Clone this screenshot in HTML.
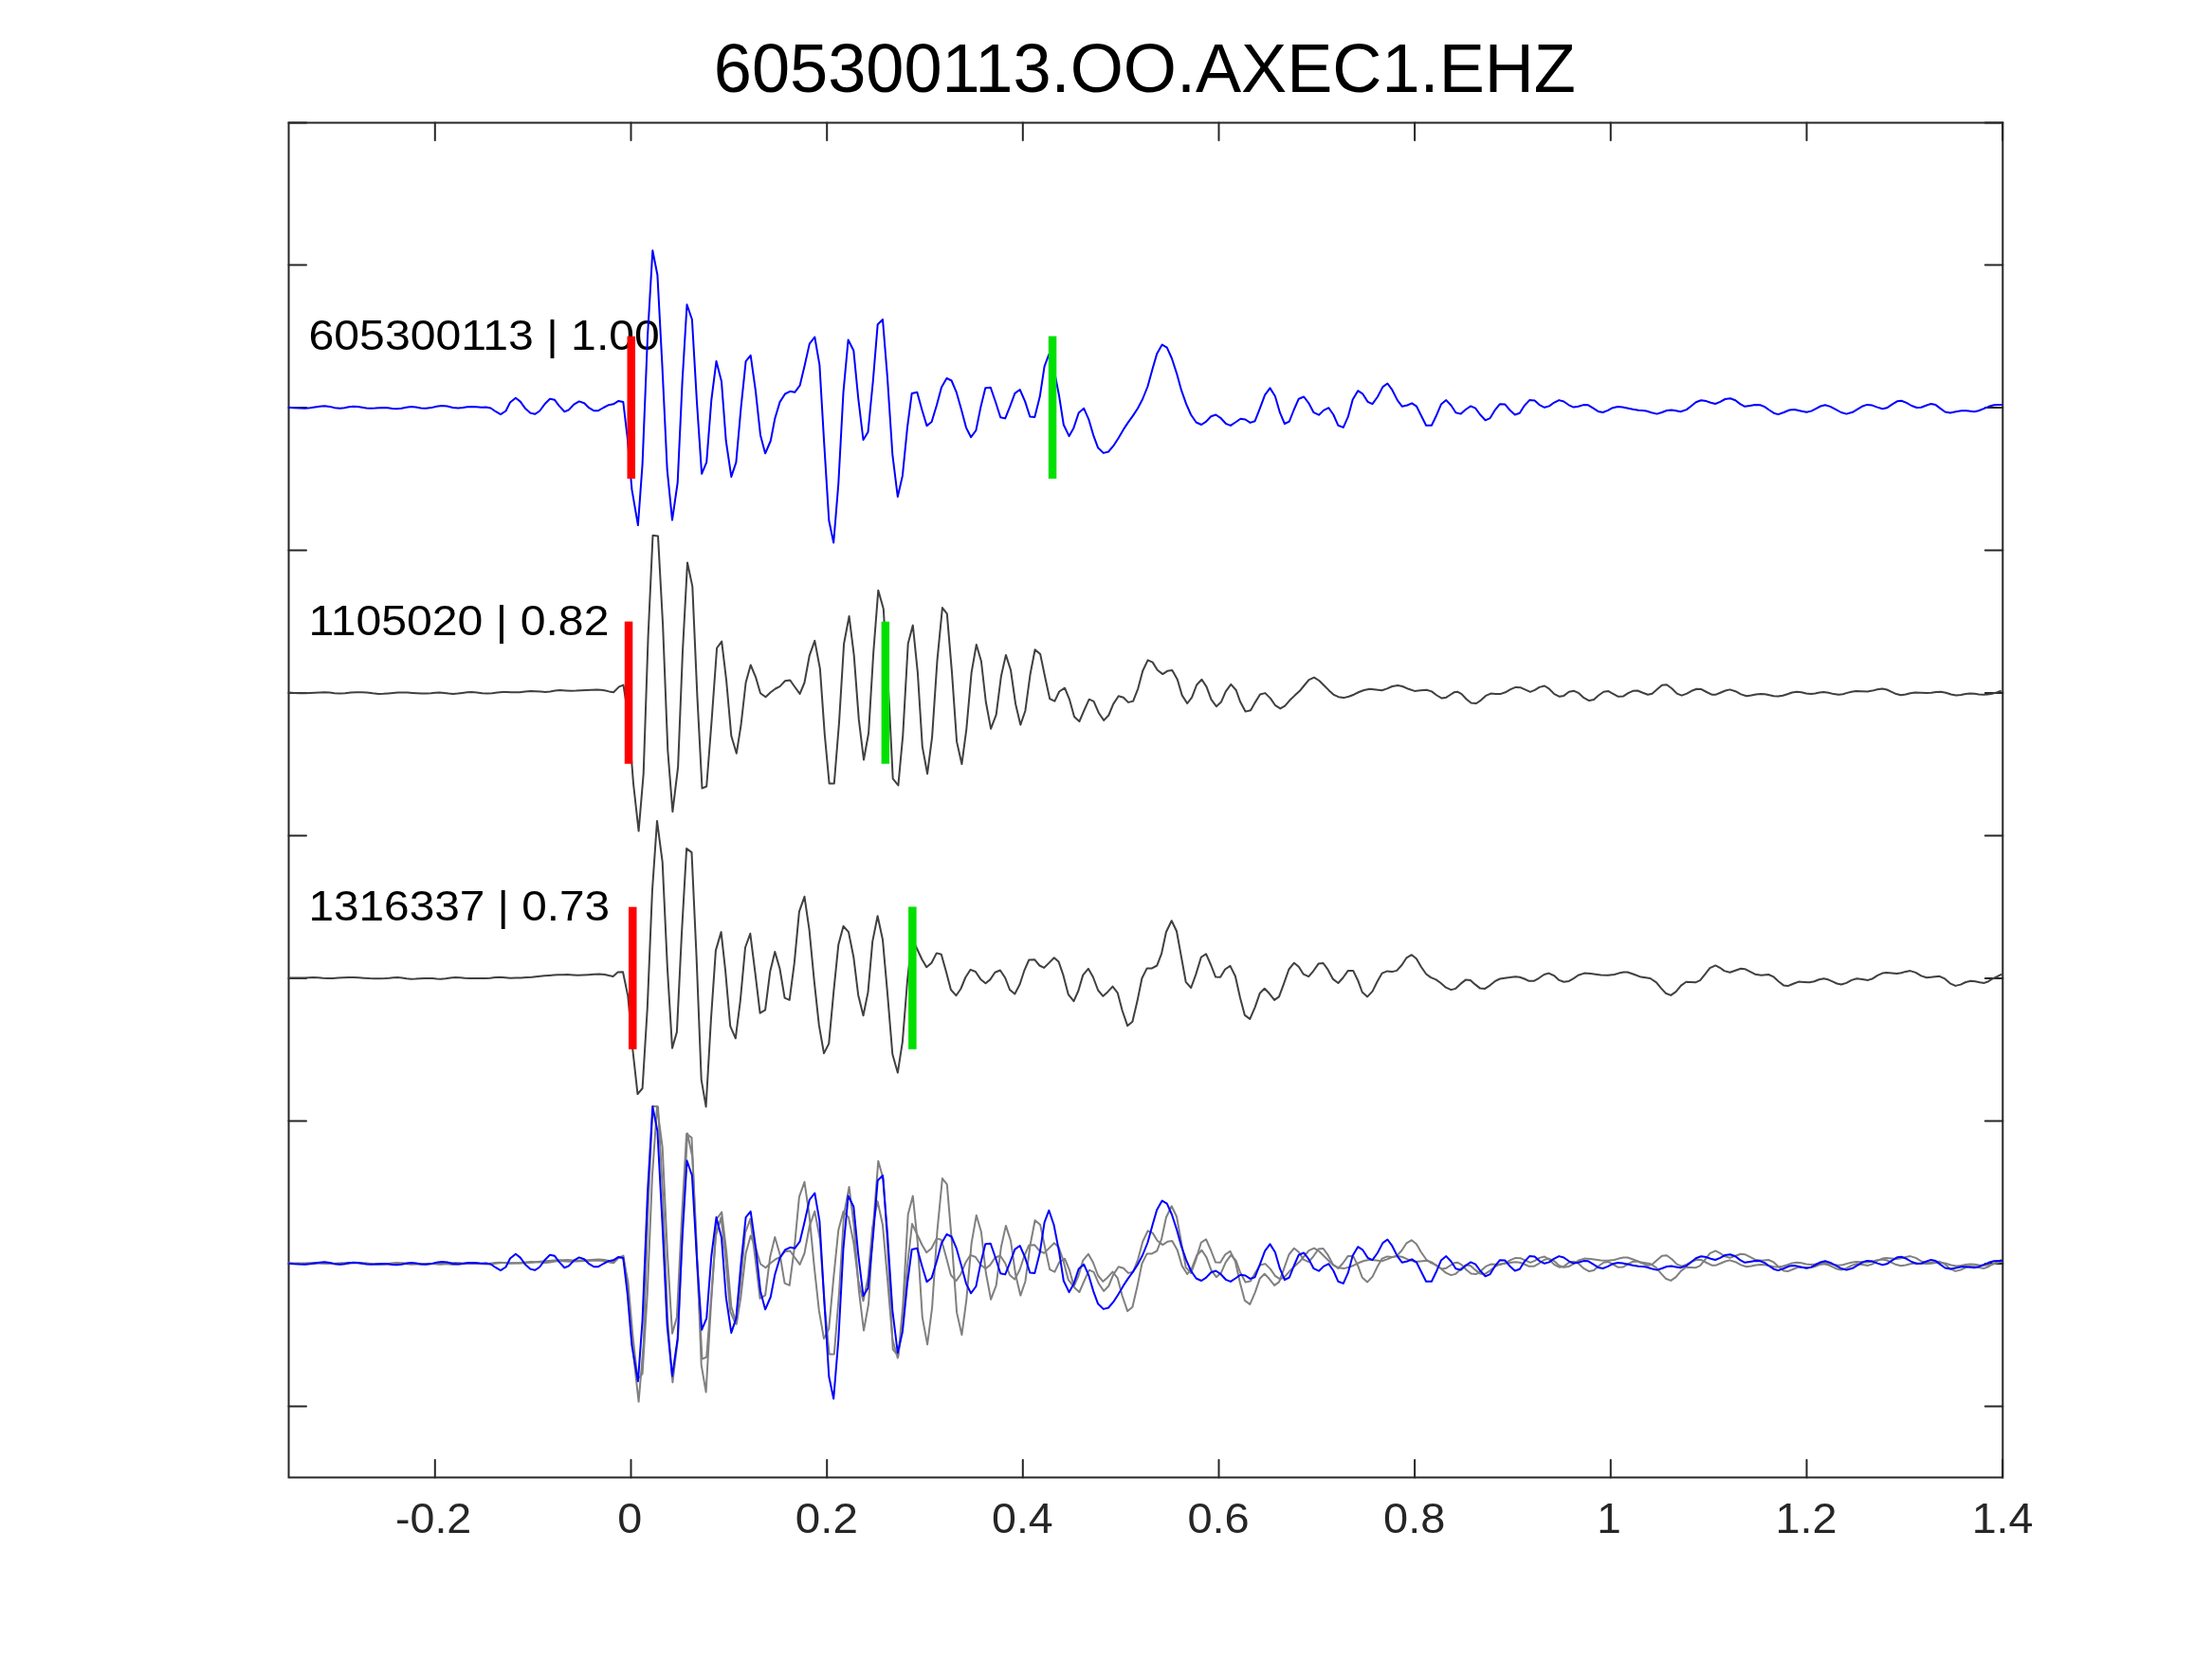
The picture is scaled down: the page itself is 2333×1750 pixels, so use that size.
<!DOCTYPE html>
<html><head><meta charset="utf-8"><style>html,body{margin:0;padding:0;background:#fff;overflow:hidden}svg{display:block;will-change:transform}text{font-family:"Liberation Sans",sans-serif}</style></head>
<body><svg width="2333" height="1750" viewBox="0 0 2333 1750">
<rect width="2333" height="1750" fill="#fff"/>
<g stroke="#262626" stroke-width="2" stroke-linecap="round"><rect x="304.5" y="129.5" width="1807.8" height="1429.0" fill="none" stroke="#262626" stroke-width="2"/><line x1="458.8" y1="1558.5" x2="458.8" y2="1540.0"/><line x1="458.8" y1="129.5" x2="458.8" y2="148.0"/><line x1="665.5" y1="1558.5" x2="665.5" y2="1540.0"/><line x1="665.5" y1="129.5" x2="665.5" y2="148.0"/><line x1="872.2" y1="1558.5" x2="872.2" y2="1540.0"/><line x1="872.2" y1="129.5" x2="872.2" y2="148.0"/><line x1="1078.8" y1="1558.5" x2="1078.8" y2="1540.0"/><line x1="1078.8" y1="129.5" x2="1078.8" y2="148.0"/><line x1="1285.5" y1="1558.5" x2="1285.5" y2="1540.0"/><line x1="1285.5" y1="129.5" x2="1285.5" y2="148.0"/><line x1="1492.1" y1="1558.5" x2="1492.1" y2="1540.0"/><line x1="1492.1" y1="129.5" x2="1492.1" y2="148.0"/><line x1="1698.8" y1="1558.5" x2="1698.8" y2="1540.0"/><line x1="1698.8" y1="129.5" x2="1698.8" y2="148.0"/><line x1="1905.5" y1="1558.5" x2="1905.5" y2="1540.0"/><line x1="1905.5" y1="129.5" x2="1905.5" y2="148.0"/><line x1="2112.1" y1="1558.5" x2="2112.1" y2="1540.0"/><line x1="2112.1" y1="129.5" x2="2112.1" y2="148.0"/><line x1="304.5" y1="279.4" x2="323.0" y2="279.4"/><line x1="2112.3" y1="279.4" x2="2093.8" y2="279.4"/><line x1="304.5" y1="580.4" x2="323.0" y2="580.4"/><line x1="2112.3" y1="580.4" x2="2093.8" y2="580.4"/><line x1="304.5" y1="881.4" x2="323.0" y2="881.4"/><line x1="2112.3" y1="881.4" x2="2093.8" y2="881.4"/><line x1="304.5" y1="1182.4" x2="323.0" y2="1182.4"/><line x1="2112.3" y1="1182.4" x2="2093.8" y2="1182.4"/><line x1="304.5" y1="1483.4" x2="323.0" y2="1483.4"/><line x1="2112.3" y1="1483.4" x2="2093.8" y2="1483.4"/><line x1="304.5" y1="429.9" x2="323.0" y2="429.9"/><line x1="2112.3" y1="429.9" x2="2093.8" y2="429.9"/><line x1="304.5" y1="730.9" x2="323.0" y2="730.9"/><line x1="2112.3" y1="730.9" x2="2093.8" y2="730.9"/><line x1="304.5" y1="1031.9" x2="323.0" y2="1031.9"/><line x1="2112.3" y1="1031.9" x2="2093.8" y2="1031.9"/><line x1="304.5" y1="1332.9" x2="323.0" y2="1332.9"/><line x1="2112.3" y1="1332.9" x2="2093.8" y2="1332.9"/><line x1="304.5" y1="129.5" x2="323.0" y2="129.5"/><line x1="2112.3" y1="129.5" x2="2093.8" y2="129.5"/></g>
<g opacity="0.999"><text transform="translate(325.59 369.15) scale(0.4814 0.45)" font-size="100" fill="#000">605300113 | 1.00</text></g>
<g opacity="0.999"><text transform="translate(325.45 670.25) scale(0.4817 0.45)" font-size="100" fill="#000">1105020 | 0.82</text></g>
<g opacity="0.999"><text transform="translate(325.48 971.05) scale(0.4773 0.45)" font-size="100" fill="#000">1316337 | 0.73</text></g>
<polyline fill="none" stroke="#808080" stroke-width="2.00" stroke-linejoin="round" points="304.3,1332.5 310.1,1332.9 315.9,1333.2 321.7,1333.3 326.9,1333.1 332.0,1332.8 337.1,1332.4 342.3,1332.2 347.5,1332.6 352.8,1333.2 358.0,1333.6 364.0,1333.2 370.0,1332.6 376.0,1332.2 381.4,1332.3 386.8,1332.5 393.1,1333.3 399.3,1333.9 404.4,1333.8 409.5,1333.4 414.6,1333.0 419.7,1332.6 424.8,1332.5 429.8,1332.6 434.8,1332.9 439.7,1333.2 444.7,1333.5 449.7,1333.6 454.4,1333.3 459.1,1332.8 463.8,1332.5 468.5,1332.9 473.2,1333.5 477.9,1333.9 482.8,1333.6 487.7,1332.9 492.6,1332.3 497.5,1332.0 502.9,1332.4 508.3,1333.2 513.7,1333.6 519.1,1333.2 524.6,1332.5 530.0,1332.1 534.5,1332.1 539.0,1332.2 543.6,1332.3 548.1,1332.3 554.0,1331.6 559.8,1330.9 564.9,1331.2 570.1,1331.6 575.2,1331.9 580.3,1331.4 585.5,1330.6 590.6,1330.1 596.5,1330.4 602.3,1330.7 607.7,1330.6 613.2,1330.3 618.6,1330.0 624.1,1329.7 629.5,1329.6 633.5,1329.8 637.6,1330.3 642.4,1331.4 647.1,1332.3 653.0,1326.4 657.5,1324.6 662.0,1353.8 666.4,1408.0 668.0,1428.5 673.6,1478.6 678.7,1418.2 683.6,1273.3 688.5,1166.7 694.0,1167.4 699.1,1260.7 704.3,1393.6 709.4,1458.2 715.1,1411.1 720.0,1289.0 725.0,1195.4 730.3,1220.6 735.4,1336.4 740.5,1433.6 745.2,1431.5 750.7,1360.5 756.1,1285.5 761.2,1278.6 766.1,1319.9 771.3,1378.3 776.8,1396.7 781.5,1367.0 786.6,1322.0 791.7,1303.5 796.9,1315.8 802.0,1333.2 807.5,1337.3 812.8,1332.2 817.8,1328.5 822.5,1326.1 828.0,1320.3 833.3,1319.5 838.2,1326.5 843.6,1333.9 848.5,1322.0 853.8,1293.3 859.3,1277.9 864.9,1307.6 869.8,1376.8 874.6,1428.5 879.8,1428.5 885.0,1364.2 890.1,1281.0 895.6,1252.0 900.7,1293.3 905.8,1360.9 911.0,1403.5 916.1,1375.2 921.2,1290.2 926.3,1224.7 931.8,1244.2 937.6,1340.4 941.7,1423.3 947.4,1430.5 952.3,1377.3 957.7,1281.0 962.8,1261.6 967.9,1311.7 972.8,1389.6 978.1,1418.2 983.1,1379.3 988.5,1298.6 993.9,1243.1 998.8,1249.3 1004.0,1311.4 1009.1,1384.4 1014.4,1408.0 1019.3,1371.1 1024.6,1311.7 1029.8,1282.0 1034.9,1299.5 1039.8,1342.5 1045.1,1370.7 1050.7,1355.8 1055.8,1315.8 1060.9,1292.9 1066.0,1308.7 1071.1,1344.5 1076.3,1366.6 1081.4,1351.7 1086.5,1313.8 1091.6,1287.2 1097.2,1292.1 1102.1,1315.8 1107.2,1339.1 1112.4,1341.6 1117.2,1331.5 1123.0,1327.7 1128.1,1340.2 1133.0,1358.1 1138.4,1363.0 1143.3,1351.6 1148.7,1339.7 1153.6,1341.8 1159.0,1354.3 1164.2,1361.9 1169.3,1356.5 1174.2,1344.6 1179.7,1336.2 1184.9,1337.7 1190.0,1342.9 1195.1,1341.6 1200.3,1328.3 1205.2,1309.8 1210.6,1298.4 1215.7,1300.6 1220.7,1308.7 1226.3,1313.1 1231.2,1309.8 1236.3,1309.0 1241.8,1318.7 1246.7,1335.4 1252.2,1344.0 1257.1,1337.7 1262.1,1324.5 1267.5,1318.7 1272.5,1326.4 1277.5,1339.9 1282.9,1347.2 1287.9,1342.6 1292.8,1331.3 1298.3,1323.8 1303.7,1330.0 1308.2,1342.6 1313.6,1352.6 1319.1,1351.2 1324.0,1342.6 1329.0,1334.5 1334.4,1333.1 1339.9,1338.6 1344.8,1345.8 1350.3,1349.4 1355.2,1346.7 1360.2,1340.8 1365.6,1335.6 1370.6,1331.1 1375.6,1325.0 1380.5,1319.1 1386.0,1316.6 1391.4,1320.0 1396.4,1325.0 1401.8,1330.4 1406.8,1334.9 1411.7,1337.2 1417.2,1338.1 1422.6,1336.8 1427.9,1334.7 1433.3,1332.0 1438.6,1330.0 1444.9,1328.7 1451.2,1329.5 1457.5,1330.2 1463.0,1328.4 1468.4,1326.0 1474.3,1325.1 1479.2,1326.0 1485.6,1328.8 1491.9,1330.9 1498.2,1330.4 1504.6,1329.8 1510.0,1331.4 1515.4,1335.5 1520.8,1338.6 1525.4,1337.7 1529.5,1335.0 1533.5,1332.3 1537.1,1331.7 1541.6,1334.1 1546.6,1339.5 1551.6,1343.6 1557.0,1344.0 1562.0,1340.6 1567.0,1335.9 1572.4,1333.6 1577.3,1333.8 1582.3,1334.1 1587.7,1332.3 1593.2,1329.1 1598.6,1326.9 1604.0,1327.3 1609.0,1329.7 1614.0,1331.8 1618.8,1329.8 1623.6,1326.9 1629.0,1325.5 1634.0,1328.7 1639.4,1334.1 1644.9,1336.8 1649.4,1335.9 1654.8,1331.8 1660.2,1330.8 1665.2,1333.2 1670.6,1338.2 1676.1,1341.1 1681.0,1340.0 1686.0,1335.5 1691.4,1331.7 1696.4,1331.1 1701.8,1334.1 1706.8,1336.8 1712.2,1336.4 1717.2,1333.2 1722.2,1330.8 1727.1,1330.5 1732.6,1332.7 1738.0,1334.7 1742.5,1333.8 1747.9,1329.1 1752.9,1324.8 1757.9,1324.2 1763.3,1328.2 1768.7,1333.6 1773.7,1335.6 1779.1,1333.6 1784.1,1330.8 1789.5,1328.7 1794.5,1329.1 1799.9,1332.0 1805.4,1334.7 1809.9,1334.7 1815.0,1332.5 1819.8,1330.5 1824.5,1329.4 1830.4,1331.2 1836.2,1334.4 1842.1,1336.2 1847.1,1335.6 1852.0,1334.5 1857.0,1333.9 1861.6,1334.3 1866.2,1335.2 1870.8,1336.2 1875.4,1336.6 1880.3,1335.8 1885.2,1334.2 1890.1,1332.5 1895.0,1331.8 1900.0,1332.3 1905.0,1333.4 1910.0,1333.9 1914.5,1333.4 1919.0,1332.6 1923.5,1332.1 1928.7,1332.8 1933.9,1334.1 1939.1,1334.8 1943.7,1334.2 1948.2,1332.9 1952.8,1331.7 1957.4,1331.1 1963.5,1331.2 1969.6,1331.4 1974.8,1330.6 1980.0,1329.2 1985.2,1328.4 1990.1,1329.5 1995.1,1331.8 2000.0,1334.1 2004.9,1335.2 2009.9,1334.5 2014.8,1333.2 2019.8,1332.5 2025.9,1332.8 2032.0,1333.0 2037.0,1332.7 2041.9,1332.0 2046.9,1331.7 2052.3,1332.7 2057.8,1334.5 2063.2,1335.5 2068.2,1335.0 2073.1,1333.9 2078.1,1333.4 2082.6,1333.8 2087.2,1334.4 2091.7,1334.8 2096.4,1334.5 2101.2,1333.7 2105.9,1332.4 2110.7,1330.7"/>
<polyline fill="none" stroke="#808080" stroke-width="2.00" stroke-linejoin="round" points="304.3,1332.4 310.1,1332.5 315.9,1332.6 321.7,1332.6 326.0,1332.3 330.4,1332.0 335.5,1332.3 340.5,1332.8 345.6,1333.1 351.0,1332.9 356.5,1332.5 361.9,1332.2 367.3,1332.0 372.7,1332.1 378.1,1332.3 383.9,1332.7 389.7,1333.1 395.5,1333.3 400.9,1333.2 406.3,1333.1 410.6,1332.8 415.0,1332.3 419.3,1332.0 424.0,1332.4 428.8,1333.3 433.5,1333.7 438.1,1333.6 442.7,1333.3 447.3,1333.0 451.9,1332.9 456.2,1333.1 460.6,1333.5 464.9,1333.7 470.0,1333.3 475.0,1332.4 480.1,1332.0 485.2,1332.3 490.2,1332.8 495.3,1333.1 500.7,1333.1 506.2,1333.1 511.6,1333.1 517.0,1332.8 522.4,1332.1 527.8,1331.8 533.0,1332.2 538.1,1332.7 543.8,1332.6 549.4,1332.4 555.1,1332.1 560.7,1331.8 565.2,1331.3 569.8,1330.7 574.3,1330.2 579.2,1329.9 584.1,1329.6 588.9,1329.3 593.8,1329.2 598.7,1329.1 604.2,1329.4 609.6,1329.7 615.2,1329.5 620.9,1329.2 626.6,1328.8 632.2,1328.6 637.6,1329.1 642.1,1330.1 646.6,1330.9 651.6,1326.6 657.0,1326.3 662.3,1351.7 667.4,1409.0 672.5,1455.1 677.6,1449.0 682.8,1364.0 687.9,1241.1 693.0,1167.0 698.7,1210.4 703.9,1322.0 709.0,1406.6 713.9,1389.6 719.0,1285.9 724.1,1196.1 729.5,1200.1 734.6,1310.5 739.7,1439.8 744.6,1468.4 749.9,1376.3 754.9,1303.6 760.6,1284.1 765.1,1325.1 770.2,1383.4 775.8,1396.3 780.9,1355.8 786.0,1300.5 791.3,1285.8 796.5,1327.1 801.6,1369.7 807.1,1366.4 812.2,1326.1 817.3,1305.0 822.5,1323.0 827.6,1353.7 832.7,1355.8 837.8,1316.9 842.9,1262.6 848.5,1246.8 853.6,1282.1 858.7,1335.3 863.8,1382.4 869.0,1412.1 874.2,1401.9 879.2,1347.6 884.3,1297.4 889.5,1278.0 895.0,1284.1 900.3,1310.7 905.2,1350.7 910.5,1372.2 915.5,1347.6 920.2,1294.4 925.6,1267.2 931.0,1292.3 935.9,1347.6 941.3,1413.1 946.8,1432.6 951.9,1399.8 957.0,1335.3 962.0,1291.0 966.9,1301.2 972.4,1313.0 977.2,1321.2 982.5,1316.7 987.8,1306.4 992.8,1307.8 997.5,1324.6 1002.9,1345.0 1008.4,1351.2 1013.4,1344.0 1018.3,1332.0 1023.6,1323.8 1028.9,1326.0 1034.2,1333.9 1039.5,1338.3 1044.3,1334.4 1049.4,1326.7 1054.9,1324.5 1060.2,1332.5 1065.0,1345.0 1070.3,1349.5 1075.6,1339.2 1080.5,1324.3 1085.3,1313.5 1091.1,1313.2 1096.4,1319.5 1101.2,1321.9 1106.5,1316.6 1111.8,1311.3 1116.6,1315.6 1121.2,1328.8 1126.7,1349.8 1132.5,1357.1 1137.4,1346.0 1142.2,1329.6 1147.8,1322.8 1152.8,1331.5 1158.1,1345.5 1163.4,1351.8 1168.2,1347.4 1173.5,1341.6 1178.8,1348.4 1183.6,1366.7 1189.2,1383.1 1194.4,1378.8 1199.5,1357.1 1204.4,1333.0 1209.7,1322.4 1215.0,1322.4 1220.3,1319.5 1225.1,1306.9 1229.9,1284.3 1235.7,1272.2 1241.0,1283.3 1245.3,1306.9 1250.7,1336.8 1256.2,1343.0 1261.3,1328.9 1266.8,1310.8 1272.0,1307.2 1277.2,1319.0 1282.1,1331.6 1287.1,1331.8 1292.1,1323.5 1297.5,1319.9 1302.9,1330.7 1307.9,1353.3 1312.9,1371.9 1318.3,1375.9 1323.7,1363.3 1328.7,1348.8 1333.7,1343.8 1338.6,1348.8 1344.1,1355.9 1349.0,1352.4 1354.0,1338.9 1359.4,1323.5 1364.9,1316.7 1369.8,1320.8 1374.8,1328.7 1380.2,1331.2 1385.2,1325.3 1390.6,1317.6 1395.6,1317.0 1400.6,1323.9 1406.0,1333.9 1411.4,1338.0 1416.4,1332.5 1421.8,1324.9 1427.2,1324.9 1432.2,1335.2 1436.7,1347.5 1442.2,1352.4 1447.6,1346.6 1452.7,1336.2 1457.7,1327.6 1463.1,1325.4 1468.1,1326.1 1473.1,1324.9 1478.5,1319.0 1483.5,1311.3 1488.9,1308.2 1493.9,1312.2 1498.8,1320.8 1504.2,1328.5 1509.2,1332.1 1514.6,1334.4 1519.6,1338.0 1525.0,1342.7 1530.5,1345.1 1535.0,1343.9 1540.4,1338.9 1545.8,1334.6 1550.8,1334.9 1555.8,1339.4 1561.2,1343.6 1566.2,1343.9 1571.6,1340.3 1576.6,1336.2 1582.0,1333.5 1587.0,1332.7 1592.0,1332.1 1598.3,1331.2 1602.8,1331.7 1607.8,1333.5 1612.7,1335.8 1617.7,1335.8 1623.1,1332.8 1628.6,1329.0 1633.5,1327.6 1639.0,1330.1 1644.4,1334.9 1649.3,1336.8 1654.8,1335.9 1659.7,1333.1 1664.5,1329.8 1671.0,1327.6 1677.5,1328.1 1683.0,1328.8 1688.4,1329.4 1696.0,1329.8 1702.5,1329.0 1707.4,1327.6 1712.3,1326.5 1716.6,1326.5 1723.1,1328.7 1730.7,1331.6 1735.6,1332.3 1740.5,1333.0 1747.0,1337.3 1751.9,1343.3 1756.8,1348.7 1762.2,1350.9 1767.6,1347.1 1773.0,1340.6 1778.4,1336.8 1783.3,1337.0 1788.2,1337.3 1793.1,1335.2 1798.2,1328.8 1803.4,1322.2 1809.4,1319.4 1814.0,1321.8 1818.6,1325.1 1824.6,1326.8 1830.3,1324.8 1836.0,1322.7 1840.3,1323.2 1845.7,1325.9 1851.1,1328.7 1857.7,1329.8 1865.2,1329.0 1870.7,1331.4 1876.1,1336.5 1881.5,1340.6 1885.6,1341.1 1891.3,1338.8 1897.0,1336.6 1902.7,1337.0 1908.4,1337.3 1913.5,1336.3 1918.5,1334.3 1923.6,1333.3 1928.2,1334.3 1932.8,1336.4 1937.4,1338.5 1942.0,1339.5 1947.4,1337.9 1952.9,1334.9 1958.3,1333.3 1964.2,1334.1 1970.2,1334.9 1975.3,1333.2 1980.3,1329.9 1985.4,1327.6 1989.8,1327.0 1995.2,1327.5 2000.6,1328.1 2005.3,1327.3 2010.0,1325.9 2014.7,1325.1 2020.5,1326.9 2026.3,1330.4 2032.1,1332.2 2036.6,1331.8 2041.1,1331.2 2045.6,1330.8 2051.2,1333.4 2056.8,1338.3 2062.4,1340.9 2067.8,1339.6 2073.3,1337.0 2078.7,1335.7 2083.4,1336.3 2088.1,1337.3 2092.8,1337.9 2097.2,1336.2 2101.5,1333.5 2106.4,1331.1 2111.3,1328.7"/>
<polyline fill="none" stroke="#0000ff" stroke-width="2.00" stroke-linejoin="round" points="304.3,1332.7 310.1,1333.3 315.9,1333.6 321.7,1333.7 326.9,1333.3 332.0,1332.5 337.1,1331.7 342.3,1331.3 347.7,1331.9 353.2,1333.2 358.6,1333.8 363.3,1333.3 368.0,1332.2 372.7,1331.7 377.3,1332.0 381.9,1332.8 386.5,1333.5 391.1,1333.8 395.6,1333.6 400.2,1333.2 404.7,1333.0 409.2,1333.3 413.8,1334.0 418.3,1334.3 423.4,1333.7 428.4,1332.7 433.5,1332.1 438.7,1332.5 444.0,1333.4 449.2,1333.8 454.8,1333.1 460.4,1331.7 466.0,1331.0 471.8,1331.6 477.6,1332.9 483.4,1333.5 488.1,1333.1 492.8,1332.3 497.5,1331.9 502.6,1332.3 507.7,1332.7 512.7,1332.4 517.6,1333.5 523.0,1337.2 528.0,1340.1 533.5,1336.5 538.0,1327.5 543.9,1322.8 548.8,1326.6 554.2,1334.1 559.2,1338.6 564.2,1339.8 569.2,1336.5 575.0,1328.7 580.0,1323.7 585.0,1324.8 589.5,1330.9 595.4,1337.2 599.9,1335.4 605.3,1329.6 610.8,1326.4 616.2,1328.2 621.2,1333.2 626.6,1336.3 631.1,1336.2 636.5,1333.0 642.0,1330.2 646.9,1329.3 652.4,1325.9 657.3,1326.9 661.8,1365.2 666.4,1419.2 672.9,1457.1 677.6,1392.6 683.0,1258.3 688.3,1167.3 693.4,1193.0 698.5,1289.0 703.7,1398.7 709.0,1451.6 714.7,1412.0 719.6,1306.2 724.5,1224.3 729.9,1240.0 735.0,1327.3 740.1,1402.8 745.2,1390.6 750.3,1325.0 755.5,1284.1 761.0,1305.6 765.7,1368.0 771.3,1405.9 776.4,1390.6 781.5,1333.2 786.6,1284.1 791.7,1277.9 796.9,1314.8 802.0,1361.9 807.1,1381.3 812.8,1368.0 817.3,1344.5 822.5,1327.1 828.0,1318.5 833.3,1315.8 838.2,1316.8 843.6,1309.7 848.5,1289.2 853.8,1265.6 859.3,1258.5 864.4,1288.2 869.3,1371.6 874.3,1452.0 879.2,1475.5 884.3,1413.1 889.5,1316.8 894.6,1261.5 900.3,1272.8 905.2,1323.0 910.5,1367.0 915.5,1358.8 920.8,1304.5 925.7,1245.2 931.0,1240.0 935.9,1300.5 941.3,1382.4 946.8,1427.0 951.9,1404.9 957.0,1353.7 961.7,1317.9 967.3,1316.8 972.4,1335.3 977.5,1352.1 982.6,1348.0 988.0,1330.2 993.0,1311.4 998.5,1302.0 1003.6,1304.5 1008.9,1317.2 1014.0,1335.3 1019.0,1354.1 1024.1,1364.2 1029.4,1357.0 1034.2,1333.1 1039.3,1312.2 1044.8,1311.7 1050.1,1327.3 1055.2,1343.2 1060.2,1344.4 1065.3,1331.7 1070.4,1317.9 1075.7,1314.0 1081.2,1326.6 1086.3,1342.5 1091.3,1342.9 1096.8,1321.1 1101.6,1289.3 1106.3,1276.8 1111.5,1292.0 1117.0,1320.2 1121.8,1351.0 1127.6,1363.1 1132.4,1354.4 1137.7,1338.5 1143.1,1333.7 1148.4,1345.7 1153.2,1362.1 1158.0,1375.2 1163.8,1380.9 1169.1,1379.5 1174.4,1373.2 1179.7,1365.0 1185.0,1355.9 1189.8,1348.6 1194.7,1341.9 1200.0,1333.7 1205.1,1324.0 1210.5,1310.5 1215.6,1291.9 1220.3,1275.9 1225.7,1266.6 1230.8,1269.6 1235.9,1281.0 1241.4,1297.9 1246.0,1314.7 1251.1,1329.1 1256.1,1340.5 1261.6,1348.5 1267.1,1351.0 1272.2,1347.6 1277.2,1342.2 1282.3,1340.5 1287.3,1343.8 1292.8,1349.8 1297.9,1351.9 1303.0,1348.5 1308.4,1344.7 1313.5,1345.5 1318.6,1348.9 1323.6,1347.2 1328.7,1334.1 1334.1,1319.7 1339.5,1312.4 1344.9,1321.0 1349.9,1338.2 1354.9,1350.0 1359.8,1347.7 1364.8,1335.0 1369.8,1323.7 1375.2,1321.5 1380.6,1328.7 1385.6,1338.2 1391.0,1340.7 1396.0,1335.9 1401.4,1333.2 1406.4,1340.5 1411.4,1351.8 1416.8,1353.9 1421.8,1342.7 1426.7,1324.6 1432.2,1315.2 1437.1,1318.3 1442.6,1326.9 1447.5,1329.2 1453.0,1321.5 1458.4,1311.1 1463.4,1307.5 1468.3,1314.2 1473.8,1325.1 1478.7,1331.7 1484.2,1330.5 1489.1,1328.3 1494.1,1331.7 1499.1,1341.8 1504.1,1351.8 1509.9,1351.8 1514.5,1342.3 1519.9,1329.6 1525.3,1325.1 1530.4,1330.5 1535.4,1338.2 1540.8,1339.6 1545.8,1335.0 1551.2,1331.4 1556.2,1333.7 1561.2,1340.5 1566.6,1346.3 1571.6,1344.1 1576.5,1335.9 1582.0,1329.2 1587.4,1329.6 1592.4,1335.5 1597.8,1340.5 1602.8,1338.7 1607.7,1331.0 1613.2,1325.1 1618.6,1325.5 1623.6,1330.1 1629.0,1332.8 1634.0,1331.4 1638.9,1327.8 1644.3,1325.1 1649.3,1326.5 1654.7,1330.3 1659.7,1332.6 1664.7,1331.7 1670.1,1330.1 1675.1,1330.3 1680.5,1333.7 1685.5,1336.9 1690.5,1338.0 1695.9,1335.9 1700.9,1333.2 1706.3,1332.1 1711.3,1332.6 1716.2,1333.5 1722.2,1334.7 1728.1,1335.7 1732.2,1336.1 1736.3,1336.5 1741.9,1338.2 1747.6,1339.6 1752.8,1338.0 1758.0,1336.0 1762.9,1335.5 1767.7,1336.4 1772.4,1337.2 1778.8,1335.1 1783.8,1331.2 1788.7,1327.2 1794.1,1325.2 1799.6,1326.1 1804.3,1327.8 1809.1,1329.0 1814.3,1326.8 1819.5,1324.0 1824.9,1323.3 1830.3,1325.2 1835.3,1329.1 1840.3,1331.8 1845.7,1330.9 1851.1,1329.9 1856.5,1330.3 1861.2,1332.1 1866.0,1335.5 1870.8,1338.7 1875.5,1340.1 1881.4,1338.0 1887.3,1335.5 1892.7,1335.1 1899.1,1336.5 1905.4,1337.8 1910.3,1336.6 1915.2,1334.0 1920.1,1331.5 1925.0,1330.3 1930.4,1331.9 1936.1,1334.8 1941.8,1338.0 1947.5,1339.6 1953.9,1337.8 1958.8,1334.9 1963.8,1331.8 1969.2,1329.9 1974.7,1330.6 1980.1,1332.6 1985.5,1334.2 1990.0,1333.3 1995.5,1329.6 2000.9,1326.3 2005.4,1325.8 2010.8,1327.9 2016.2,1331.0 2021.7,1333.0 2026.2,1332.7 2031.4,1330.7 2036.6,1329.0 2041.6,1330.1 2046.5,1333.9 2051.5,1337.5 2057.0,1338.4 2062.8,1337.4 2068.7,1336.3 2074.1,1336.3 2078.2,1336.8 2082.3,1337.2 2086.8,1336.3 2092.2,1334.1 2097.6,1331.8 2103.1,1330.3 2107.6,1330.0 2112.1,1329.9"/>
<polyline fill="none" stroke="#0000ff" stroke-width="2.00" stroke-linejoin="round" points="304.3,429.7 310.1,430.3 315.9,430.6 321.7,430.7 326.9,430.3 332.0,429.5 337.1,428.7 342.3,428.3 347.7,428.9 353.2,430.2 358.6,430.8 363.3,430.3 368.0,429.2 372.7,428.7 377.3,429.0 381.9,429.8 386.5,430.5 391.1,430.8 395.6,430.6 400.2,430.2 404.7,430.0 409.2,430.3 413.8,431.0 418.3,431.3 423.4,430.7 428.4,429.7 433.5,429.1 438.7,429.5 444.0,430.4 449.2,430.8 454.8,430.1 460.4,428.7 466.0,428.0 471.8,428.6 477.6,429.9 483.4,430.5 488.1,430.1 492.8,429.3 497.5,428.9 502.6,429.3 507.7,429.7 512.7,429.4 517.6,430.5 523.0,434.2 528.0,437.1 533.5,433.5 538.0,424.5 543.9,419.8 548.8,423.6 554.2,431.1 559.2,435.6 564.2,436.8 569.2,433.5 575.0,425.7 580.0,420.7 585.0,421.8 589.5,427.9 595.4,434.2 599.9,432.4 605.3,426.6 610.8,423.4 616.2,425.2 621.2,430.2 626.6,433.3 631.1,433.2 636.5,430.0 642.0,427.2 646.9,426.3 652.4,422.9 657.3,423.9 661.8,462.2 666.4,516.2 672.9,554.1 677.6,489.6 683.0,355.3 688.3,264.3 693.4,290.0 698.5,386.0 703.7,495.7 709.0,548.6 714.7,509.0 719.6,403.2 724.5,321.3 729.9,337.0 735.0,424.3 740.1,499.8 745.2,487.6 750.3,422.0 755.5,381.1 761.0,402.6 765.7,465.0 771.3,502.9 776.4,487.6 781.5,430.2 786.6,381.1 791.7,374.9 796.9,411.8 802.0,458.9 807.1,478.3 812.8,465.0 817.3,441.5 822.5,424.1 828.0,415.5 833.3,412.8 838.2,413.8 843.6,406.7 848.5,386.2 853.8,362.6 859.3,355.5 864.4,385.2 869.3,468.6 874.3,549.0 879.2,572.5 884.3,510.1 889.5,413.8 894.6,358.5 900.3,369.8 905.2,420.0 910.5,464.0 915.5,455.8 920.8,401.5 925.7,342.2 931.0,337.0 935.9,397.5 941.3,479.4 946.8,524.0 951.9,501.9 957.0,450.7 961.7,414.9 967.3,413.8 972.4,432.3 977.5,449.1 982.6,445.0 988.0,427.2 993.0,408.4 998.5,399.0 1003.6,401.5 1008.9,414.2 1014.0,432.3 1019.0,451.1 1024.1,461.2 1029.4,454.0 1034.2,430.1 1039.3,409.2 1044.8,408.7 1050.1,424.3 1055.2,440.2 1060.2,441.4 1065.3,428.7 1070.4,414.9 1075.7,411.0 1081.2,423.6 1086.3,439.5 1091.3,439.9 1096.8,418.1 1101.6,386.3 1106.3,373.8 1111.5,389.0 1117.0,417.2 1121.8,448.0 1127.6,460.1 1132.4,451.4 1137.7,435.5 1143.1,430.7 1148.4,442.7 1153.2,459.1 1158.0,472.2 1163.8,477.9 1169.1,476.5 1174.4,470.2 1179.7,462.0 1185.0,452.9 1189.8,445.6 1194.7,438.9 1200.0,430.7 1205.1,421.0 1210.5,407.5 1215.6,388.9 1220.3,372.9 1225.7,363.6 1230.8,366.6 1235.9,378.0 1241.4,394.9 1246.0,411.7 1251.1,426.1 1256.1,437.5 1261.6,445.5 1267.1,448.0 1272.2,444.6 1277.2,439.2 1282.3,437.5 1287.3,440.8 1292.8,446.8 1297.9,448.9 1303.0,445.5 1308.4,441.7 1313.5,442.5 1318.6,445.9 1323.6,444.2 1328.7,431.1 1334.1,416.7 1339.5,409.4 1344.9,418.0 1349.9,435.2 1354.9,447.0 1359.8,444.7 1364.8,432.0 1369.8,420.7 1375.2,418.5 1380.6,425.7 1385.6,435.2 1391.0,437.7 1396.0,432.9 1401.4,430.2 1406.4,437.5 1411.4,448.8 1416.8,450.9 1421.8,439.7 1426.7,421.6 1432.2,412.2 1437.1,415.3 1442.6,423.9 1447.5,426.2 1453.0,418.5 1458.4,408.1 1463.4,404.5 1468.3,411.2 1473.8,422.1 1478.7,428.7 1484.2,427.5 1489.1,425.3 1494.1,428.7 1499.1,438.8 1504.1,448.8 1509.9,448.8 1514.5,439.3 1519.9,426.6 1525.3,422.1 1530.4,427.5 1535.4,435.2 1540.8,436.6 1545.8,432.0 1551.2,428.4 1556.2,430.7 1561.2,437.5 1566.6,443.3 1571.6,441.1 1576.5,432.9 1582.0,426.2 1587.4,426.6 1592.4,432.5 1597.8,437.5 1602.8,435.7 1607.7,428.0 1613.2,422.1 1618.6,422.5 1623.6,427.1 1629.0,429.8 1634.0,428.4 1638.9,424.8 1644.3,422.1 1649.3,423.5 1654.7,427.3 1659.7,429.6 1664.7,428.7 1670.1,427.1 1675.1,427.3 1680.5,430.7 1685.5,433.9 1690.5,435.0 1695.9,432.9 1700.9,430.2 1706.3,429.1 1711.3,429.6 1716.2,430.5 1722.2,431.7 1728.1,432.7 1732.2,433.1 1736.3,433.5 1741.9,435.2 1747.6,436.6 1752.8,435.0 1758.0,433.0 1762.9,432.5 1767.7,433.3 1772.4,434.2 1778.8,432.1 1783.8,428.2 1788.7,424.2 1794.1,422.2 1799.6,423.1 1804.3,424.8 1809.1,426.0 1814.3,423.8 1819.5,421.0 1824.9,420.3 1830.3,422.2 1835.3,426.1 1840.3,428.8 1845.7,427.9 1851.1,426.9 1856.5,427.3 1861.2,429.1 1866.0,432.5 1870.8,435.7 1875.5,437.1 1881.4,435.0 1887.3,432.5 1892.7,432.1 1899.1,433.5 1905.4,434.8 1910.3,433.6 1915.2,431.1 1920.1,428.5 1925.0,427.3 1930.4,428.9 1936.1,431.8 1941.8,435.0 1947.5,436.6 1953.9,434.8 1958.8,431.9 1963.8,428.8 1969.2,426.9 1974.7,427.6 1980.1,429.6 1985.5,431.2 1990.0,430.3 1995.5,426.6 2000.9,423.3 2005.4,422.8 2010.8,424.9 2016.2,428.0 2021.7,430.0 2026.2,429.7 2031.4,427.7 2036.6,426.0 2041.6,427.1 2046.5,430.9 2051.5,434.5 2057.0,435.4 2062.8,434.3 2068.7,433.3 2074.1,433.3 2078.2,433.7 2082.3,434.2 2086.8,433.3 2092.2,431.1 2097.6,428.8 2103.1,427.3 2107.6,427.0 2112.1,426.9"/>
<polyline fill="none" stroke="#404040" stroke-width="2.00" stroke-linejoin="round" points="304.3,730.5 310.1,730.9 315.9,731.2 321.7,731.3 326.9,731.1 332.0,730.8 337.1,730.4 342.3,730.2 347.5,730.6 352.8,731.2 358.0,731.6 364.0,731.2 370.0,730.6 376.0,730.2 381.4,730.3 386.8,730.5 393.1,731.3 399.3,731.9 404.4,731.8 409.5,731.4 414.6,731.0 419.7,730.6 424.8,730.5 429.8,730.6 434.8,730.9 439.7,731.2 444.7,731.5 449.7,731.6 454.4,731.3 459.1,730.8 463.8,730.5 468.5,730.9 473.2,731.5 477.9,731.9 482.8,731.6 487.7,731.0 492.6,730.3 497.5,730.0 502.9,730.4 508.3,731.2 513.7,731.6 519.1,731.2 524.6,730.5 530.0,730.1 534.5,730.1 539.0,730.2 543.6,730.3 548.1,730.3 554.0,729.6 559.8,728.9 564.9,729.2 570.1,729.6 575.2,729.9 580.3,729.4 585.5,728.6 590.6,728.1 596.5,728.4 602.3,728.7 607.7,728.6 613.2,728.3 618.6,728.0 624.1,727.7 629.5,727.6 633.5,727.8 637.6,728.3 642.4,729.4 647.1,730.3 653.0,724.4 657.5,722.6 662.0,751.8 666.4,806.0 668.0,826.5 673.6,876.6 678.7,816.2 683.6,671.3 688.5,564.7 694.0,565.4 699.1,658.7 704.3,791.6 709.4,856.2 715.1,809.1 720.0,687.0 725.0,593.4 730.3,618.6 735.4,734.4 740.5,831.6 745.2,829.5 750.7,758.5 756.1,683.5 761.2,676.6 766.1,717.9 771.3,776.3 776.8,794.7 781.5,765.0 786.6,720.0 791.7,701.5 796.9,713.8 802.0,731.2 807.5,735.3 812.8,730.2 817.8,726.5 822.5,724.1 828.0,718.3 833.3,717.5 838.2,724.5 843.6,731.9 848.5,720.0 853.8,691.3 859.3,675.9 864.9,705.6 869.8,774.8 874.6,826.5 879.8,826.5 885.0,762.2 890.1,679.0 895.6,650.0 900.7,691.3 905.8,758.9 911.0,801.5 916.1,773.2 921.2,688.2 926.3,622.7 931.8,642.2 937.6,738.4 941.7,821.3 947.4,828.5 952.3,775.3 957.7,679.0 962.8,659.6 967.9,709.7 972.8,787.6 978.1,816.2 983.1,777.3 988.5,696.6 993.9,641.1 998.8,647.3 1004.0,709.4 1009.1,782.4 1014.4,806.0 1019.3,769.1 1024.6,709.7 1029.8,680.0 1034.9,697.5 1039.8,740.5 1045.1,768.7 1050.7,753.8 1055.8,713.8 1060.9,690.9 1066.0,706.7 1071.1,742.5 1076.3,764.6 1081.4,749.7 1086.5,711.8 1091.6,685.2 1097.2,690.1 1102.1,713.8 1107.2,737.1 1112.4,739.6 1117.2,729.5 1123.0,725.7 1128.1,738.2 1133.0,756.1 1138.4,761.0 1143.3,749.6 1148.7,737.7 1153.6,739.8 1159.0,752.3 1164.2,759.9 1169.3,754.5 1174.2,742.6 1179.7,734.2 1184.9,735.7 1190.0,740.9 1195.1,739.6 1200.3,726.3 1205.2,707.8 1210.6,696.4 1215.7,698.6 1220.7,706.7 1226.3,711.1 1231.2,707.8 1236.3,707.0 1241.8,716.7 1246.7,733.4 1252.2,742.0 1257.1,735.7 1262.1,722.5 1267.5,716.7 1272.5,724.4 1277.5,737.9 1282.9,745.2 1287.9,740.6 1292.8,729.3 1298.3,721.8 1303.7,728.0 1308.2,740.6 1313.6,750.6 1319.1,749.2 1324.0,740.6 1329.0,732.5 1334.4,731.1 1339.9,736.6 1344.8,743.8 1350.3,747.4 1355.2,744.7 1360.2,738.8 1365.6,733.6 1370.6,729.1 1375.6,723.0 1380.5,717.1 1386.0,714.6 1391.4,718.0 1396.4,723.0 1401.8,728.4 1406.8,732.9 1411.7,735.2 1417.2,736.1 1422.6,734.8 1427.9,732.7 1433.3,730.0 1438.6,728.0 1444.9,726.7 1451.2,727.5 1457.5,728.2 1463.0,726.4 1468.4,724.0 1474.3,723.1 1479.2,724.0 1485.6,726.8 1491.9,728.9 1498.2,728.3 1504.6,727.8 1510.0,729.4 1515.4,733.5 1520.8,736.6 1525.4,735.7 1529.5,733.0 1533.5,730.3 1537.1,729.7 1541.6,732.1 1546.6,737.5 1551.6,741.6 1557.0,742.0 1562.0,738.6 1567.0,733.9 1572.4,731.6 1577.3,731.9 1582.3,732.1 1587.7,730.3 1593.2,727.1 1598.6,724.9 1604.0,725.3 1609.0,727.7 1614.0,729.8 1618.8,727.8 1623.6,724.9 1629.0,723.5 1634.0,726.7 1639.4,732.1 1644.9,734.8 1649.4,733.9 1654.8,729.8 1660.2,728.8 1665.2,731.2 1670.6,736.2 1676.1,739.1 1681.0,738.0 1686.0,733.5 1691.4,729.7 1696.4,729.1 1701.8,732.1 1706.8,734.8 1712.2,734.4 1717.2,731.2 1722.2,728.8 1727.1,728.5 1732.6,730.7 1738.0,732.7 1742.5,731.8 1747.9,727.1 1752.9,722.8 1757.9,722.2 1763.3,726.2 1768.7,731.6 1773.7,733.6 1779.1,731.6 1784.1,728.8 1789.5,726.7 1794.5,727.1 1799.9,730.0 1805.4,732.7 1809.9,732.7 1815.0,730.5 1819.8,728.5 1824.5,727.4 1830.4,729.2 1836.2,732.4 1842.1,734.2 1847.1,733.6 1852.0,732.5 1857.0,731.9 1861.6,732.3 1866.2,733.2 1870.8,734.2 1875.4,734.6 1880.3,733.8 1885.2,732.2 1890.1,730.5 1895.0,729.8 1900.0,730.3 1905.0,731.4 1910.0,731.9 1914.5,731.4 1919.0,730.6 1923.5,730.1 1928.7,730.8 1933.9,732.1 1939.1,732.8 1943.7,732.2 1948.2,730.9 1952.8,729.7 1957.4,729.1 1963.5,729.2 1969.6,729.4 1974.8,728.6 1980.0,727.2 1985.2,726.4 1990.1,727.5 1995.1,729.8 2000.0,732.1 2004.9,733.2 2009.9,732.5 2014.8,731.2 2019.8,730.5 2025.9,730.8 2032.0,731.0 2037.0,730.7 2041.9,730.0 2046.9,729.7 2052.3,730.7 2057.8,732.5 2063.2,733.5 2068.2,733.0 2073.1,731.9 2078.1,731.4 2082.6,731.8 2087.2,732.4 2091.7,732.8 2096.4,732.5 2101.2,731.7 2105.9,730.4 2110.7,728.7"/>
<polyline fill="none" stroke="#404040" stroke-width="2.00" stroke-linejoin="round" points="304.3,1031.4 310.1,1031.5 315.9,1031.6 321.7,1031.6 326.0,1031.3 330.4,1031.0 335.5,1031.3 340.5,1031.8 345.6,1032.1 351.0,1031.9 356.5,1031.5 361.9,1031.2 367.3,1031.0 372.7,1031.1 378.1,1031.3 383.9,1031.7 389.7,1032.1 395.5,1032.3 400.9,1032.2 406.3,1032.1 410.6,1031.8 415.0,1031.3 419.3,1031.0 424.0,1031.4 428.8,1032.3 433.5,1032.7 438.1,1032.6 442.7,1032.3 447.3,1032.0 451.9,1031.9 456.2,1032.1 460.6,1032.5 464.9,1032.7 470.0,1032.3 475.0,1031.4 480.1,1031.0 485.2,1031.3 490.2,1031.8 495.3,1032.1 500.7,1032.1 506.2,1032.1 511.6,1032.1 517.0,1031.8 522.4,1031.1 527.8,1030.8 533.0,1031.2 538.1,1031.7 543.8,1031.6 549.4,1031.4 555.1,1031.1 560.7,1030.8 565.2,1030.3 569.8,1029.7 574.3,1029.2 579.2,1028.9 584.1,1028.6 588.9,1028.3 593.8,1028.2 598.7,1028.1 604.2,1028.4 609.6,1028.7 615.2,1028.5 620.9,1028.2 626.6,1027.8 632.2,1027.6 637.6,1028.1 642.1,1029.1 646.6,1029.9 651.6,1025.6 657.0,1025.3 662.3,1050.7 667.4,1108.0 672.5,1154.1 677.6,1148.0 682.8,1063.0 687.9,940.1 693.0,866.0 698.7,909.4 703.9,1021.0 709.0,1105.6 713.9,1088.6 719.0,984.9 724.1,895.1 729.5,899.1 734.6,1009.5 739.7,1138.8 744.6,1167.4 749.9,1075.3 754.9,1002.6 760.6,983.1 765.1,1024.1 770.2,1082.4 775.8,1095.3 780.9,1054.8 786.0,999.5 791.3,984.8 796.5,1026.1 801.6,1068.7 807.1,1065.4 812.2,1025.1 817.3,1004.0 822.5,1022.0 827.6,1052.7 832.7,1054.8 837.8,1015.9 842.9,961.6 848.5,945.8 853.6,981.1 858.7,1034.3 863.8,1081.4 869.0,1111.1 874.2,1100.9 879.2,1046.6 884.3,996.4 889.5,977.0 895.0,983.1 900.3,1009.7 905.2,1049.7 910.5,1071.2 915.5,1046.6 920.2,993.4 925.6,966.2 931.0,991.3 935.9,1046.6 941.3,1112.1 946.8,1131.6 951.9,1098.8 957.0,1034.3 962.0,990.0 966.9,1000.2 972.4,1012.0 977.2,1020.2 982.5,1015.7 987.8,1005.4 992.8,1006.8 997.5,1023.6 1002.9,1044.0 1008.4,1050.2 1013.4,1043.0 1018.3,1031.0 1023.6,1022.8 1028.9,1025.0 1034.2,1032.9 1039.5,1037.3 1044.3,1033.4 1049.4,1025.7 1054.9,1023.5 1060.2,1031.5 1065.0,1044.0 1070.3,1048.5 1075.6,1038.2 1080.5,1023.3 1085.3,1012.5 1091.1,1012.2 1096.4,1018.5 1101.2,1020.9 1106.5,1015.6 1111.8,1010.3 1116.6,1014.6 1121.2,1027.8 1126.7,1048.8 1132.5,1056.1 1137.4,1045.0 1142.2,1028.6 1147.8,1021.8 1152.8,1030.5 1158.1,1044.5 1163.4,1050.8 1168.2,1046.4 1173.5,1040.6 1178.8,1047.4 1183.6,1065.7 1189.2,1082.1 1194.4,1077.8 1199.5,1056.1 1204.4,1032.0 1209.7,1021.4 1215.0,1021.4 1220.3,1018.5 1225.1,1005.9 1229.9,983.3 1235.7,971.2 1241.0,982.3 1245.3,1005.9 1250.7,1035.8 1256.2,1042.0 1261.3,1027.9 1266.8,1009.8 1272.0,1006.2 1277.2,1018.0 1282.1,1030.6 1287.1,1030.8 1292.1,1022.5 1297.5,1018.9 1302.9,1029.7 1307.9,1052.3 1312.9,1070.9 1318.3,1074.9 1323.7,1062.3 1328.7,1047.8 1333.7,1042.8 1338.6,1047.8 1344.1,1054.9 1349.0,1051.4 1354.0,1037.9 1359.4,1022.5 1364.9,1015.7 1369.8,1019.8 1374.8,1027.7 1380.2,1030.2 1385.2,1024.3 1390.6,1016.6 1395.6,1016.0 1400.6,1022.9 1406.0,1032.9 1411.4,1037.0 1416.4,1031.5 1421.8,1023.9 1427.2,1023.9 1432.2,1034.2 1436.7,1046.5 1442.2,1051.4 1447.6,1045.6 1452.7,1035.2 1457.7,1026.6 1463.1,1024.4 1468.1,1025.1 1473.1,1023.9 1478.5,1018.0 1483.5,1010.3 1488.9,1007.2 1493.9,1011.2 1498.8,1019.8 1504.2,1027.5 1509.2,1031.1 1514.6,1033.4 1519.6,1037.0 1525.0,1041.7 1530.5,1044.1 1535.0,1042.9 1540.4,1037.9 1545.8,1033.6 1550.8,1033.9 1555.8,1038.4 1561.2,1042.6 1566.2,1042.9 1571.6,1039.3 1576.6,1035.2 1582.0,1032.5 1587.0,1031.7 1592.0,1031.1 1598.3,1030.2 1602.8,1030.7 1607.8,1032.5 1612.7,1034.8 1617.7,1034.8 1623.1,1031.8 1628.6,1028.0 1633.5,1026.6 1639.0,1029.1 1644.4,1033.9 1649.3,1035.8 1654.8,1034.9 1659.7,1032.1 1664.5,1028.8 1671.0,1026.6 1677.5,1027.1 1683.0,1027.8 1688.4,1028.4 1696.0,1028.8 1702.5,1028.0 1707.4,1026.6 1712.3,1025.5 1716.6,1025.5 1723.1,1027.7 1730.7,1030.6 1735.6,1031.3 1740.5,1032.0 1747.0,1036.3 1751.9,1042.3 1756.8,1047.7 1762.2,1049.9 1767.6,1046.1 1773.0,1039.6 1778.4,1035.8 1783.3,1036.0 1788.2,1036.3 1793.1,1034.2 1798.2,1027.8 1803.4,1021.2 1809.4,1018.4 1814.0,1020.8 1818.6,1024.1 1824.6,1025.8 1830.3,1023.8 1836.0,1021.7 1840.3,1022.2 1845.7,1024.9 1851.1,1027.7 1857.7,1028.8 1865.2,1028.0 1870.7,1030.4 1876.1,1035.5 1881.5,1039.6 1885.6,1040.1 1891.3,1037.8 1897.0,1035.6 1902.7,1036.0 1908.4,1036.3 1913.5,1035.3 1918.5,1033.3 1923.6,1032.3 1928.2,1033.3 1932.8,1035.4 1937.4,1037.5 1942.0,1038.5 1947.4,1036.9 1952.9,1033.9 1958.3,1032.3 1964.2,1033.1 1970.2,1033.9 1975.3,1032.2 1980.3,1028.9 1985.4,1026.6 1989.8,1026.0 1995.2,1026.5 2000.6,1027.1 2005.3,1026.3 2010.0,1024.9 2014.7,1024.1 2020.5,1025.9 2026.3,1029.4 2032.1,1031.2 2036.6,1030.8 2041.1,1030.2 2045.6,1029.8 2051.2,1032.4 2056.8,1037.3 2062.4,1039.9 2067.8,1038.6 2073.3,1036.0 2078.7,1034.7 2083.4,1035.3 2088.1,1036.3 2092.8,1036.9 2097.2,1035.2 2101.5,1032.5 2106.4,1030.1 2111.3,1027.7"/>
<rect x="661.5" y="354.8" width="8.5" height="150.1" fill="#ff0000"/>
<rect x="1105.8" y="354.6" width="8.5" height="150.3" fill="#00e000"/>
<rect x="658.8" y="655.6" width="8.5" height="150.1" fill="#ff0000"/>
<rect x="929.6" y="655.7" width="8.5" height="150.0" fill="#00e000"/>
<rect x="663.0" y="956.7" width="8.5" height="150.1" fill="#ff0000"/>
<rect x="958.1" y="956.5" width="8.5" height="150.3" fill="#00e000"/>
<g opacity="0.999"><text transform="translate(416.93 1616.86) scale(0.4663 0.441)" font-size="100" fill="#262626">-0.2</text></g>
<g opacity="0.999"><text transform="translate(651.33 1616.86) scale(0.4667 0.441)" font-size="100" fill="#262626">0</text></g>
<g opacity="0.999"><text transform="translate(838.71 1616.86) scale(0.4760 0.441)" font-size="100" fill="#262626">0.2</text></g>
<g opacity="0.999"><text transform="translate(1046.05 1616.86) scale(0.4650 0.441)" font-size="100" fill="#262626">0.4</text></g>
<g opacity="0.999"><text transform="translate(1252.41 1616.86) scale(0.4700 0.441)" font-size="100" fill="#262626">0.6</text></g>
<g opacity="0.999"><text transform="translate(1459.07 1616.86) scale(0.4700 0.441)" font-size="100" fill="#262626">0.8</text></g>
<g opacity="0.999"><text transform="translate(1684.28 1616.86) scale(0.4600 0.441)" font-size="100" fill="#262626">1</text></g>
<g opacity="0.999"><text transform="translate(1872.47 1616.86) scale(0.4680 0.441)" font-size="100" fill="#262626">1.2</text></g>
<g opacity="0.999"><text transform="translate(2079.70 1616.86) scale(0.4660 0.441)" font-size="100" fill="#262626">1.4</text></g>
<text transform="translate(752.8 97.0) scale(0.7217 0.7148)" font-size="100" fill="#000">605300113.OO.AXEC1.EHZ</text>
</svg></body></html>
